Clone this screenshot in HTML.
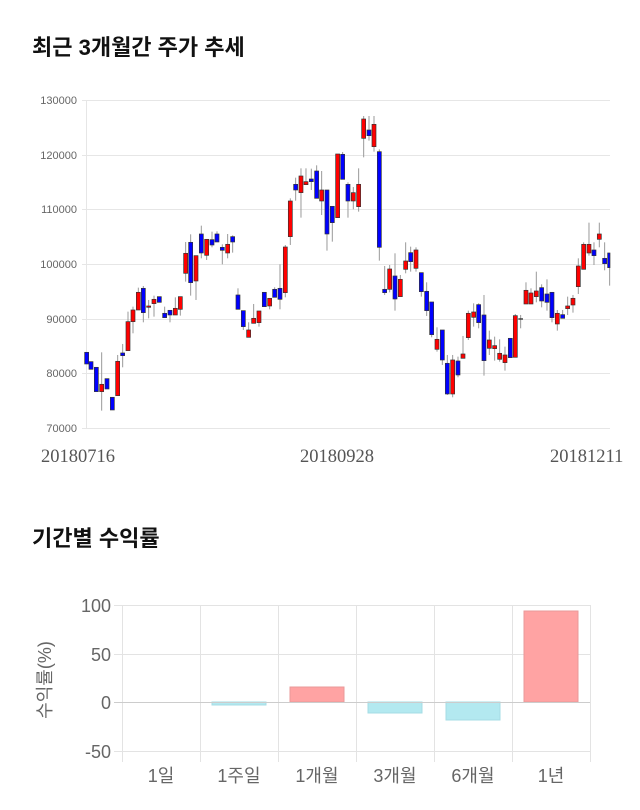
<!DOCTYPE html>
<html><head><meta charset="utf-8"><style>
body{margin:0;background:#fff;width:640px;height:810px;overflow:hidden;font-family:"Liberation Sans","Noto Sans CJK KR",sans-serif}
svg{position:absolute;left:0;top:0}
</style></head><body>
<svg width="640" height="810" xmlns="http://www.w3.org/2000/svg">
<text x="32" y="55" font-size="22" font-weight="bold" fill="#111" font-family="Liberation Sans, Noto Sans CJK KR, sans-serif">최근 3개월간 주가 추세</text>
<g stroke="#e6e6e6" stroke-width="1">
<line x1="82" y1="100.5" x2="610" y2="100.5"/><line x1="82" y1="155.5" x2="610" y2="155.5"/>
<line x1="82" y1="209.5" x2="610" y2="209.5"/><line x1="82" y1="264.5" x2="610" y2="264.5"/>
<line x1="82" y1="319.5" x2="610" y2="319.5"/><line x1="82" y1="373.5" x2="610" y2="373.5"/>
<line x1="82" y1="428.5" x2="610" y2="428.5"/><line x1="86.5" y1="100" x2="86.5" y2="428"/>
</g>
<g font-size="11" fill="#666" text-anchor="end" font-family="Liberation Sans, sans-serif">
<text x="77" y="104">130000</text><text x="77" y="159">120000</text><text x="77" y="213">110000</text>
<text x="77" y="268">100000</text><text x="77" y="323">90000</text><text x="77" y="377">80000</text><text x="77" y="432">70000</text>
</g>
<g font-size="18.5" fill="#555" font-family="Liberation Serif, serif">
<text x="41" y="462">20180716</text><text x="300" y="462">20180928</text><text x="550" y="462">20181211</text>
</g>
<g id="c1" transform="translate(80,90) scale(0.3333)" stroke-width="3">
<g stroke="#999">
<line x1="65" y1="787" x2="65" y2="962"/><line x1="113" y1="795" x2="113" y2="917"/><line x1="128" y1="762" x2="128" y2="832"/>
<line x1="144" y1="665" x2="144" y2="782"/><line x1="159" y1="650" x2="159" y2="730"/><line x1="175" y1="593" x2="175" y2="660"/>
<line x1="190" y1="588" x2="190" y2="697"/><line x1="206" y1="630" x2="206" y2="685"/><line x1="222" y1="617" x2="222" y2="680"/>
<line x1="254" y1="650" x2="254" y2="683"/><line x1="270" y1="661" x2="270" y2="697"/><line x1="286" y1="622" x2="286" y2="675"/>
<line x1="301" y1="620" x2="301" y2="677"/><line x1="317" y1="456" x2="317" y2="575"/><line x1="332" y1="433" x2="332" y2="617"/>
<line x1="348" y1="497" x2="348" y2="630"/><line x1="364" y1="407" x2="364" y2="505"/><line x1="380" y1="448" x2="380" y2="510"/>
<line x1="396" y1="425" x2="396" y2="472"/><line x1="411" y1="424" x2="411" y2="456"/><line x1="427" y1="463" x2="427" y2="523"/>
<line x1="443" y1="432" x2="443" y2="505"/><line x1="458" y1="436" x2="458" y2="488"/><line x1="474" y1="595" x2="474" y2="658"/>
<line x1="490" y1="662" x2="490" y2="720"/><line x1="506" y1="697" x2="506" y2="742"/><line x1="521" y1="642" x2="521" y2="700"/>
<line x1="537" y1="663" x2="537" y2="710"/><line x1="569" y1="625" x2="569" y2="658"/><line x1="584" y1="592" x2="584" y2="622"/>
<line x1="600" y1="523" x2="600" y2="658"/><line x1="616" y1="465" x2="616" y2="622"/><line x1="631" y1="325" x2="631" y2="465"/>
<line x1="647" y1="263" x2="647" y2="332"/><line x1="663" y1="235" x2="663" y2="383"/><line x1="678" y1="235" x2="678" y2="284"/>
<line x1="694" y1="236" x2="694" y2="300"/><line x1="710" y1="226" x2="710" y2="325"/><line x1="725" y1="243" x2="725" y2="375"/>
<line x1="741" y1="300" x2="741" y2="482"/><line x1="757" y1="349" x2="757" y2="455"/><line x1="773" y1="192" x2="773" y2="383"/>
<line x1="788" y1="186" x2="788" y2="268"/><line x1="804" y1="277" x2="804" y2="383"/><line x1="820" y1="291" x2="820" y2="358"/>
<line x1="836" y1="235" x2="836" y2="365"/>
</g>
<g stroke="#333" stroke-width="2">
<rect x="14" y="787" width="12" height="35" fill="#00f"/><rect x="27" y="815" width="12" height="23" fill="#00f"/>
<rect x="43" y="832" width="12" height="73" fill="#00f"/><rect x="59" y="883" width="12" height="22" fill="#f00"/>
<rect x="75" y="866" width="12" height="31" fill="#00f"/><rect x="91" y="922" width="12" height="38" fill="#00f"/>
<rect x="107" y="814" width="12" height="103" fill="#f00"/><rect x="122" y="789" width="12" height="8" fill="#00f"/>
<rect x="138" y="695" width="12" height="87" fill="#f00"/><rect x="153" y="660" width="12" height="35" fill="#f00"/>
<rect x="169" y="607" width="12" height="53" fill="#f00"/><rect x="184" y="595" width="12" height="73" fill="#00f"/>
<rect x="200" y="648" width="12" height="4" fill="#f00"/><rect x="216" y="628" width="12" height="13" fill="#f00"/>
<rect x="232" y="620" width="12" height="17" fill="#00f"/><rect x="248" y="670" width="12" height="13" fill="#00f"/>
<rect x="264" y="661" width="12" height="14" fill="#00f"/><rect x="280" y="655" width="12" height="20" fill="#f00"/>
<rect x="295" y="620" width="12" height="38" fill="#f00"/><rect x="311" y="490" width="12" height="60" fill="#f00"/>
<rect x="326" y="457" width="12" height="121" fill="#00f"/><rect x="342" y="497" width="12" height="76" fill="#f00"/>
<rect x="358" y="432" width="12" height="57" fill="#00f"/><rect x="374" y="448" width="12" height="48" fill="#f00"/>
<rect x="390" y="449" width="12" height="16" fill="#00f"/><rect x="405" y="432" width="12" height="24" fill="#00f"/>
<rect x="421" y="472" width="12" height="9" fill="#00f"/><rect x="437" y="463" width="12" height="26" fill="#f00"/>
<rect x="452" y="440" width="12" height="16" fill="#00f"/><rect x="468" y="615" width="12" height="43" fill="#00f"/>
<rect x="484" y="662" width="12" height="48" fill="#00f"/><rect x="500" y="720" width="12" height="22" fill="#f00"/>
<rect x="515" y="685" width="12" height="15" fill="#f00"/><rect x="531" y="663" width="12" height="35" fill="#f00"/>
<rect x="547" y="607" width="12" height="43" fill="#00f"/><rect x="563" y="625" width="12" height="23" fill="#f00"/>
<rect x="578" y="598" width="12" height="24" fill="#00f"/><rect x="594" y="595" width="12" height="33" fill="#00f"/>
<rect x="610" y="471" width="12" height="137" fill="#f00"/><rect x="625" y="333" width="12" height="107" fill="#f00"/>
<rect x="641" y="283" width="12" height="17" fill="#00f"/><rect x="657" y="258" width="12" height="50" fill="#f00"/>
<rect x="672" y="275" width="12" height="9" fill="#f00"/><rect x="688" y="267" width="12" height="8" fill="#00f"/>
<rect x="704" y="243" width="12" height="82" fill="#00f"/><rect x="719" y="300" width="12" height="33" fill="#f00"/>
<rect x="735" y="300" width="12" height="132" fill="#00f"/><rect x="751" y="349" width="12" height="49" fill="#00f"/>
<rect x="767" y="192" width="12" height="191" fill="#f00"/><rect x="782" y="193" width="12" height="75" fill="#00f"/>
<rect x="798" y="283" width="12" height="50" fill="#00f"/><rect x="814" y="308" width="12" height="25" fill="#f00"/>
<rect x="830" y="283" width="12" height="67" fill="#f00"/>
</g>
</g>
<g transform="translate(340,90) scale(0.3333)" stroke-width="3">
<g stroke="#999">
<line x1="71" y1="78" x2="71" y2="202"/><line x1="87" y1="78" x2="87" y2="152"/><line x1="102" y1="78" x2="102" y2="185"/>
<line x1="118" y1="178" x2="118" y2="512"/><line x1="134" y1="528" x2="134" y2="615"/><line x1="149" y1="525" x2="149" y2="607"/>
<line x1="165" y1="490" x2="165" y2="662"/><line x1="181" y1="555" x2="181" y2="620"/><line x1="197" y1="457" x2="197" y2="550"/>
<line x1="212" y1="470" x2="212" y2="545"/><line x1="228" y1="472" x2="228" y2="545"/><line x1="244" y1="548" x2="244" y2="620"/>
<line x1="260" y1="577" x2="260" y2="678"/><line x1="275" y1="636" x2="275" y2="742"/><line x1="291" y1="712" x2="291" y2="785"/>
<line x1="307" y1="720" x2="307" y2="825"/><line x1="322" y1="795" x2="322" y2="915"/><line x1="338" y1="795" x2="338" y2="922"/>
<line x1="354" y1="800" x2="354" y2="862"/><line x1="369" y1="738" x2="369" y2="805"/><line x1="385" y1="662" x2="385" y2="750"/>
<line x1="401" y1="640" x2="401" y2="710"/><line x1="416" y1="640" x2="416" y2="715"/><line x1="432" y1="615" x2="432" y2="857"/>
<line x1="448" y1="722" x2="448" y2="795"/><line x1="464" y1="740" x2="464" y2="812"/><line x1="479" y1="748" x2="479" y2="815"/>
<line x1="495" y1="770" x2="495" y2="842"/><line x1="511" y1="745" x2="511" y2="803"/><line x1="526" y1="672" x2="526" y2="802"/>
<line x1="542" y1="675" x2="542" y2="715"/><line x1="558" y1="577" x2="558" y2="642"/><line x1="573" y1="595" x2="573" y2="642"/>
<line x1="589" y1="545" x2="589" y2="637"/><line x1="605" y1="583" x2="605" y2="652"/><line x1="621" y1="568" x2="621" y2="662"/>
<line x1="636" y1="607" x2="636" y2="697"/><line x1="652" y1="660" x2="652" y2="722"/><line x1="668" y1="660" x2="668" y2="685"/>
<line x1="683" y1="620" x2="683" y2="675"/><line x1="699" y1="615" x2="699" y2="668"/><line x1="715" y1="505" x2="715" y2="612"/>
<line x1="731" y1="457" x2="731" y2="538"/><line x1="747" y1="398" x2="747" y2="497"/><line x1="762" y1="457" x2="762" y2="525"/>
<line x1="778" y1="398" x2="778" y2="472"/><line x1="794" y1="457" x2="794" y2="541"/><line x1="809" y1="489" x2="809" y2="587"/>
</g>
<g stroke="#333" stroke-width="2">
<rect x="65" y="87" width="12" height="58" fill="#f00"/><rect x="81" y="120" width="12" height="17" fill="#00f"/>
<rect x="96" y="103" width="12" height="67" fill="#f00"/><rect x="112" y="185" width="12" height="287" fill="#00f"/>
<rect x="128" y="598" width="12" height="10" fill="#00f"/><rect x="143" y="537" width="12" height="61" fill="#f00"/>
<rect x="159" y="558" width="12" height="69" fill="#00f"/><rect x="175" y="568" width="12" height="52" fill="#f00"/>
<rect x="191" y="513" width="12" height="25" fill="#f00"/><rect x="206" y="488" width="12" height="27" fill="#00f"/>
<rect x="222" y="480" width="12" height="55" fill="#f00"/><rect x="238" y="548" width="12" height="57" fill="#00f"/>
<rect x="254" y="604" width="12" height="58" fill="#00f"/><rect x="269" y="636" width="12" height="98" fill="#00f"/>
<rect x="285" y="748" width="12" height="30" fill="#f00"/><rect x="301" y="720" width="12" height="90" fill="#00f"/>
<rect x="316" y="820" width="12" height="92" fill="#00f"/><rect x="332" y="810" width="12" height="102" fill="#f00"/>
<rect x="348" y="813" width="12" height="42" fill="#00f"/><rect x="363" y="792" width="12" height="13" fill="#f00"/>
<rect x="379" y="670" width="12" height="73" fill="#f00"/><rect x="395" y="666" width="12" height="16" fill="#f00"/>
<rect x="410" y="644" width="12" height="54" fill="#00f"/><rect x="426" y="675" width="12" height="137" fill="#00f"/>
<rect x="442" y="750" width="12" height="25" fill="#f00"/><rect x="458" y="767" width="12" height="9" fill="#f00"/>
<rect x="473" y="790" width="12" height="18" fill="#f00"/><rect x="489" y="795" width="12" height="23" fill="#f00"/>
<rect x="505" y="745" width="12" height="58" fill="#00f"/><rect x="520" y="677" width="12" height="125" fill="#f00"/>
<rect x="536" y="686" width="12" height="2" fill="#333"/><rect x="552" y="601" width="12" height="41" fill="#f00"/>
<rect x="567" y="609" width="12" height="33" fill="#f00"/><rect x="583" y="603" width="12" height="17" fill="#f00"/>
<rect x="599" y="593" width="12" height="40" fill="#00f"/><rect x="615" y="612" width="12" height="25" fill="#00f"/>
<rect x="630" y="607" width="12" height="76" fill="#00f"/><rect x="646" y="670" width="12" height="32" fill="#f00"/>
<rect x="662" y="674" width="12" height="11" fill="#00f"/><rect x="677" y="648" width="12" height="8" fill="#f00"/>
<rect x="693" y="625" width="12" height="20" fill="#f00"/><rect x="709" y="528" width="12" height="62" fill="#f00"/>
<rect x="725" y="463" width="12" height="75" fill="#f00"/><rect x="741" y="463" width="12" height="26" fill="#f00"/>
<rect x="756" y="480" width="12" height="17" fill="#00f"/><rect x="772" y="432" width="12" height="16" fill="#f00"/>
<rect x="788" y="505" width="12" height="16" fill="#00f"/><rect x="803" y="489" width="7" height="44" fill="#00f"/>
</g>
</g>

<text x="32" y="546" font-size="22" font-weight="bold" fill="#111" font-family="Liberation Sans, Noto Sans CJK KR, sans-serif">기간별 수익률</text>
<g stroke="#e3e3e3" stroke-width="1">
<line x1="114" y1="605.5" x2="590" y2="605.5"/><line x1="114" y1="654.5" x2="590" y2="654.5"/>
<line x1="114" y1="751.5" x2="590" y2="751.5"/>
<line x1="122.5" y1="605" x2="122.5" y2="762"/><line x1="200.5" y1="605" x2="200.5" y2="762"/>
<line x1="278.5" y1="605" x2="278.5" y2="762"/><line x1="356.5" y1="605" x2="356.5" y2="762"/>
<line x1="434.5" y1="605" x2="434.5" y2="762"/><line x1="512.5" y1="605" x2="512.5" y2="762"/>
<line x1="590.5" y1="605" x2="590.5" y2="762"/>
</g>
<g stroke-width="1">
<rect x="212" y="702" width="54" height="3" fill="#b3e9f0" stroke="#a6dce4"/>
<rect x="290" y="687" width="54" height="15" fill="#ffa3a3" stroke="#e89a9a"/>
<rect x="368" y="702" width="54" height="11" fill="#b3e9f0" stroke="#a6dce4"/>
<rect x="446" y="702" width="54" height="18" fill="#b3e9f0" stroke="#a6dce4"/>
<rect x="524" y="611" width="54" height="91" fill="#ffa3a3" stroke="#e89a9a"/>
</g>
<line x1="114" y1="702.5" x2="590" y2="702.5" stroke="#ccc"/>
<g font-size="18" fill="#666" text-anchor="end" font-family="Liberation Sans, sans-serif">
<text x="111" y="612">100</text><text x="111" y="661">50</text><text x="111" y="709">0</text><text x="111" y="758">-50</text>
</g>
<g font-size="18" fill="#666" text-anchor="middle" font-family="Liberation Sans, Noto Sans CJK KR, sans-serif">
<text x="161" y="782">1일</text><text x="239" y="782">1주일</text><text x="317" y="782">1개월</text>
<text x="395" y="782">3개월</text><text x="473" y="782">6개월</text><text x="551" y="782">1년</text>
</g>
<text transform="translate(51,680) rotate(-90)" font-size="18" fill="#666" text-anchor="middle" font-family="Liberation Sans, Noto Sans CJK KR, sans-serif">수익률(%)</text>
</svg>
</body></html>
